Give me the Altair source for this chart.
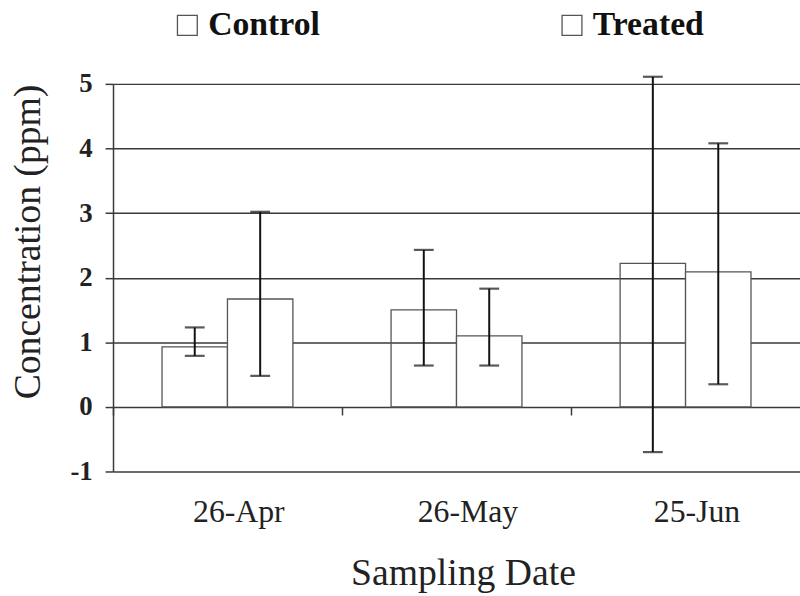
import altair as alt
import pandas as pd

dates = ["26-Apr", "26-May", "25-Jun"]
groups = ["Control", "Treated"]
control_mean = [0.93, 1.50, 2.22]
control_lo = [0.79, 0.64, -0.70]
control_hi = [1.23, 2.43, 5.11]
treated_mean = [1.67, 1.10, 2.09]
treated_lo = [0.48, 0.64, 0.35]
treated_hi = [3.02, 1.83, 4.08]
y_ticks = [-1, 0, 1, 2, 3, 4, 5]

rows = []
for i, d in enumerate(dates):
    rows.append({"Date": d, "Group": "Control", "mean": control_mean[i],
                 "lo": control_lo[i], "hi": control_hi[i]})
    rows.append({"Date": d, "Group": "Treated", "mean": treated_mean[i],
                 "lo": treated_lo[i], "hi": treated_hi[i]})
df = pd.DataFrame(rows)

FONT = "Liberation Serif"
GRID = "#3a3a3a"

x_enc = alt.X(
    "Date:N",
    sort=dates,
    scale=alt.Scale(paddingInner=0.4286, paddingOuter=0.214),
    axis=alt.Axis(
        title="Sampling Date",
        titleFont=FONT, titleFontSize=38, titleFontWeight="normal", titleColor="#222",
        titleX=353, titleY=179, titleAlign="center", titleBaseline="alphabetic",
        labelFont=FONT, labelFontSize=32, labelColor="#222", labelAngle=0,
        labelBaseline="alphabetic", labelPadding=107, labelOffset=60.5,
        bandPosition=0, tickOffset=-49.5, ticks=True, tickSize=8, tickColor=GRID,
        tickWidth=1.5, domain=False, grid=False, offset=-65,
    ),
)
xoff = alt.XOffset("Group:N", sort=groups, scale=alt.Scale(paddingInner=0, paddingOuter=0))
y_scale = alt.Scale(domain=[-1, 5], nice=False, zero=False)

base = alt.Chart(df)

bars = base.mark_bar(stroke="#555", strokeWidth=1.3).encode(
    x=x_enc,
    xOffset=xoff,
    y=alt.Y(
        "mean:Q",
        scale=y_scale,
        axis=alt.Axis(
            title="Concentration (ppm)",
            titleFont=FONT, titleFontSize=38, titleFontWeight="normal", titleColor="#222",
            titleAngle=-90, titleX=-74, titleY=159, titleAlign="center",
            titleBaseline="alphabetic",
            values=y_ticks, labelExpr="'' + datum.value",
            labelFont=FONT, labelFontSize=27, labelFontWeight="bold", labelColor="#222",
            labelPadding=13, tickSize=8, tickColor=GRID, tickWidth=1.5,
            domainColor=GRID, domainWidth=1.5,
            grid=True, gridColor=GRID, gridWidth=1.5,
        ),
    ),
    y2=alt.datum(0),
    fill=alt.Fill(
        "Group:N",
        sort=groups,
        scale=alt.Scale(domain=groups, range=["rgba(255,255,255,0)", "white"]),
        legend=alt.Legend(
            title=None, orient="none", direction="horizontal",
            legendX=58, legendY=-76,
            symbolType="square", symbolSize=400, symbolStrokeColor="#555",
            symbolStrokeWidth=1.3, symbolFillColor="white",
            labelFont=FONT, labelFontSize=34, labelFontWeight="bold", labelColor="#111",
            labelOffset=4, columnPadding=237,
        ),
    ),
)

rules = base.mark_rule(color="#111", strokeWidth=2).encode(
    x=alt.X("Date:N", sort=dates),
    xOffset=xoff,
    y=alt.Y("lo:Q", scale=y_scale),
    y2="hi:Q",
)
cap_lo = base.mark_tick(color="#111", thickness=2.2, size=20).encode(
    x=alt.X("Date:N", sort=dates),
    xOffset=xoff,
    y=alt.Y("lo:Q", scale=y_scale),
)
cap_hi = base.mark_tick(color="#111", thickness=2.2, size=20).encode(
    x=alt.X("Date:N", sort=dates),
    xOffset=xoff,
    y=alt.Y("hi:Q", scale=y_scale),
)

chart = alt.layer(bars, rules, cap_lo, cap_hi).properties(
    width=693, height=391,
    padding={"left": 114, "top": 82, "right": 0, "bottom": 123},
    autosize=alt.AutoSizeParams(type="none"),
    background="white",
).configure_view(stroke=None)

chart.save("out.html", embed_options={"renderer": "svg", "actions": False})
